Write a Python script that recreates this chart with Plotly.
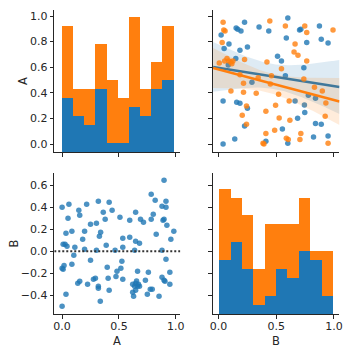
import numpy as np
import plotly.graph_objects as go

# ---------------- data ----------------
# hue 1 (blue) and hue 2 (orange): column B (x of upper-right) and A (y of upper-right)
B1 = [0.022, 0.152, 0.166, 0.194, 0.225, 0.351, 0.435, 0.600, 0.587, 0.702, 0.713, 0.874, 0.890, 0.949, 0.764,
      0.090, 0.048, 0.250, 0.185, 0.149, 0.084, 0.511, 0.545, 0.739, 0.579, 0.289, 0.778, 0.840, 0.744, 0.663,
      0.747, 0.039, 0.157, 0.185, 0.250, 0.685, 0.840, 0.890, 0.225, 0.553, 0.949, 0.823, 0.140, 0.410, 0.600, 0.039]
A1 = [0.852, 0.906, 0.896, 0.883, 0.951, 0.914, 0.883, 0.984, 0.828, 0.891, 0.896, 0.922, 0.818, 0.790, 0.794,
      0.781, 0.747, 0.758, 0.732, 0.669, 0.617, 0.685, 0.648, 0.595, 0.534, 0.482, 0.380, 0.357, 0.305, 0.336,
      0.247, 0.336, 0.326, 0.318, 0.279, 0.201, 0.161, 0.154, 0.141, 0.117, 0.063, 0.055, 0.039, 0.021, 0.005, 0.0]
B2 = [0.039, 0.045, 0.056, 0.444, 0.579, 0.747, 0.764, 0.992, 0.031, 0.663, 0.654, 0.688, 0.225, 0.006, 0.073,
      0.053, 0.090, 0.107, 0.124, 0.115, 0.419, 0.545, 0.764, 0.185, 0.458, 0.343, 0.739, 0.216, 0.449, 0.831,
      0.107, 0.216, 0.326, 0.899, 0.520, 0.612, 0.930, 0.494, 0.242, 0.410, 0.205, 0.525, 0.618, 0.924, 0.242,
      0.486, 0.410, 0.713, 0.587, 0.604, 0.705, 0.385, 0.393, 0.949]
A2 = [0.951, 0.891, 0.883, 0.961, 0.922, 0.922, 0.872, 0.891, 0.794, 0.781, 0.719, 0.693, 0.661, 0.633, 0.669,
      0.648, 0.648, 0.641, 0.648, 0.628, 0.641, 0.588, 0.648, 0.542, 0.534, 0.518, 0.508, 0.474, 0.469, 0.443,
      0.414, 0.404, 0.396, 0.414, 0.388, 0.336, 0.320, 0.302, 0.297, 0.255, 0.224, 0.203, 0.185, 0.216, 0.154,
      0.107, 0.083, 0.083, 0.044, 0.036, 0.036, 0.005, 0.0, 0.005]

# histogram counts (10 bins) per hue
A_counts_1 = [6, 4, 3, 7, 1, 1, 5, 4, 7, 8]
A_counts_2 = [8, 3, 4, 5, 7, 5, 10, 3, 3, 6]
B_counts_1 = [6, 8, 5, 1, 2, 5, 4, 7, 6, 2]
B_counts_2 = [8, 5, 6, 4, 8, 5, 6, 6, 1, 5]

# lower-left residual plot: x = A, y = B
resid_A = [0.897, 0.784, 0.819, 0.914, 0.879, 0.914, 0.0, 0.060, 0.216, 0.319,
           0.414, 0.147, 0.155, 0.362, 0.440, 0.647, 0.802, 0.052, 0.509, 0.379,
           0.595, 0.690, 0.716, 0.784, 0.888, 0.897, 0.922, 0.250, 0.302, 0.983,
           0.034, 0.086, 0.198, 0.339, 0.828, 0.328, 0.181, 0.534, 0.595, 0.957,
           0.647, 0.681, 0.009, 0.026, 0.043, 0.112, 0.198, 0.388, 0.534, 0.638,
           0.466, 0.302, 0.879, 0.103, 0.250, 0.086, 0.017, 0.0, 0.009, 0.914,
           0.526, 0.397, 0.517, 0.483, 0.664, 0.759, 0.948, 0.474, 0.405, 0.534,
           0.879, 0.897, 0.905, 0.733, 0.276, 0.293, 0.138, 0.155, 0.224, 0.319,
           0.319, 0.414, 0.621, 0.647, 0.672, 0.638, 0.664, 0.681, 0.647, 0.621,
           0.629, 0.776, 0.793, 0.750, 0.853, 0.948, 0.034, 0.336, 0.0, 0.655]
resid_B = [0.645, 0.518, 0.463, 0.454, 0.409, 0.400, 0.400, 0.427, 0.427, 0.454,
           0.445, 0.372, 0.327, 0.354, 0.372, 0.354, 0.336, 0.300, 0.309, 0.291,
           0.282, 0.291, 0.263, 0.291, 0.282, 0.291, 0.236, 0.245, 0.254, 0.182,
           0.163, 0.182, 0.182, 0.172, 0.154, 0.136, 0.109, 0.118, 0.127, 0.109,
           0.091, 0.072, 0.063, 0.063, 0.045, 0.036, 0.018, 0.054, 0.036, 0.009,
           0.009, 0.009, 0.009, -0.037, -0.082, -0.118, -0.128, -0.155, -0.164, -0.073,
           -0.091, -0.146, -0.155, -0.182, -0.182, -0.191, -0.191, -0.228, -0.246, -0.255,
           -0.237, -0.264, -0.273, -0.264, -0.255, -0.246, -0.291, -0.273, -0.300, -0.318,
           -0.337, -0.355, -0.300, -0.291, -0.300, -0.318, -0.318, -0.318, -0.355, -0.373,
           -0.409, -0.346, -0.346, -0.391, -0.409, -0.300, -0.391, -0.455, -0.500, -0.270]

x_ticks = [0.0, 0.5, 1.0]
x_tick_text = ["0.0", "0.5", "1.0"]
yA_ticks = [0.0, 0.2, 0.4, 0.6, 0.8, 1.0]
yA_tick_text = ["0.0", "0.2", "0.4", "0.6", "0.8", "1.0"]
yB_ticks = [-0.4, -0.2, 0.0, 0.2, 0.4, 0.6]
yB_tick_text = ["\u22120.4", "\u22120.2", "0.0", "0.2", "0.4", "0.6"]

# ---------------- style / layout ----------------
BLUE = "#1f77b4"
ORANGE = "#ff7f0e"
INK = "#262626"
FONT = "DejaVu Sans"
W, H = 353, 352

xA_range = [-0.069, 1.041]
xB_range = [-0.048, 1.048]
yA_range = [-0.0625, 1.047]
yB_range = [-0.570, 0.709]
hist_range = [0, 15.75]

col1 = [52.3 / W, 181.0 / W]
col2 = [214.3 / W, 343.3 / W]
row1 = [1 - 152.0 / H, 1 - 10.0 / H]
row2 = [1 - 314.0 / H, 1 - 173.3 / H]

fig = go.Figure()

# register every visible subplot so that all axes get drawn
for xa, ya in (("x", "y"), ("x4", "y4")):
    fig.add_trace(go.Scatter(x=[], y=[], xaxis=xa, yaxis=ya, mode="markers", showlegend=False, hoverinfo="skip"))

# ---- diagonal histograms (stacked) ----
def hist_bars(vals_all, counts1, counts2, xa, ya):
    edges = np.linspace(min(vals_all), max(vals_all), len(counts1) + 1)
    centers = (edges[:-1] + edges[1:]) / 2
    width = edges[1] - edges[0]
    for counts, col in ((counts1, BLUE), (counts2, ORANGE)):
        fig.add_trace(go.Bar(x=centers, y=counts, width=width, marker=dict(color=col, line=dict(width=0)),
                             xaxis=xa, yaxis=ya, showlegend=False, hoverinfo="skip"))

hist_bars(A1 + A2, A_counts_1, A_counts_2, "x", "y5")
hist_bars(B1 + B2, B_counts_1, B_counts_2, "x4", "y6")

# ---- upper right: scatter + regression with CI ----
T_CRIT = {44: 2.015, 52: 2.007}
xg = np.linspace(xB_range[0], xB_range[1], 100)
for xs, ys, col, rgb in ((B1, A1, BLUE, "31,119,180"), (B2, A2, ORANGE, "255,127,14")):
    x = np.array(xs)
    y = np.array(ys)
    n = len(x)
    slope, icpt = np.polyfit(x, y, 1)
    yhat = icpt + slope * xg
    res = y - (icpt + slope * x)
    s = np.sqrt(np.sum(res ** 2) / (n - 2))
    sxx = np.sum((x - x.mean()) ** 2)
    se = s * np.sqrt(1.0 / n + (xg - x.mean()) ** 2 / sxx)
    t = T_CRIT[n - 2]
    fig.add_trace(go.Scatter(x=xs, y=ys, mode="markers", xaxis="x2", yaxis="y2",
                             marker=dict(color=col, size=5.5, opacity=0.8, line=dict(width=0)),
                             showlegend=False, hoverinfo="skip"))
    fig.add_trace(go.Scatter(x=xg, y=yhat + t * se, mode="lines", line=dict(width=0), xaxis="x2", yaxis="y2",
                             showlegend=False, hoverinfo="skip"))
    fig.add_trace(go.Scatter(x=xg, y=yhat - t * se, mode="lines", line=dict(width=0), fill="tonexty",
                             fillcolor="rgba(%s,0.15)" % rgb, xaxis="x2", yaxis="y2",
                             showlegend=False, hoverinfo="skip"))
    fig.add_trace(go.Scatter(x=xg, y=yhat, mode="lines", line=dict(color=col, width=2.5), xaxis="x2", yaxis="y2",
                             showlegend=False, hoverinfo="skip"))

# ---- lower left: residual plot ----
fig.add_trace(go.Scatter(x=resid_A, y=resid_B, mode="markers", xaxis="x3", yaxis="y3",
                         marker=dict(color=BLUE, size=5.5, opacity=0.8, line=dict(width=0)),
                         showlegend=False, hoverinfo="skip"))
fig.add_trace(go.Scatter(x=xA_range, y=[0, 0], mode="lines", xaxis="x3", yaxis="y3",
                         line=dict(color="#333333", width=2, dash="2px,2px"),
                         showlegend=False, hoverinfo="skip"))

common = dict(showline=True, linecolor=INK, linewidth=1.25, ticks="outside", ticklen=3.5, tickwidth=1.25,
              tickcolor=INK, showgrid=False, zeroline=False,
              tickfont=dict(family=FONT, size=11, color=INK))
xcommon = dict(common, ticklabelstandoff=-2)

fig.update_layout(
    width=W, height=H, margin=dict(l=0, r=0, t=0, b=0),
    paper_bgcolor="white", plot_bgcolor="rgba(0,0,0,0)",
    barmode="stack", bargap=0, showlegend=False,
    xaxis=dict(domain=col1, anchor="y", range=xA_range, tickvals=x_ticks, ticktext=x_tick_text,
               showticklabels=False, **common),
    yaxis=dict(domain=row1, anchor="x", range=yA_range, tickvals=yA_ticks, ticktext=yA_tick_text, **common),
    xaxis2=dict(domain=col2, anchor="y2", range=xB_range, tickvals=x_ticks, ticktext=x_tick_text,
                showticklabels=False, **common),
    yaxis2=dict(domain=row1, anchor="x2", range=yA_range, tickvals=yA_ticks, ticktext=yA_tick_text,
                showticklabels=False, **common),
    xaxis3=dict(domain=col1, anchor="y3", range=xA_range, tickvals=x_ticks, ticktext=x_tick_text, **xcommon),
    yaxis3=dict(domain=row2, anchor="x3", range=yB_range, tickvals=yB_ticks, ticktext=yB_tick_text, **common),
    xaxis4=dict(domain=col2, anchor="y4", range=xB_range, tickvals=x_ticks, ticktext=x_tick_text, **xcommon),
    yaxis4=dict(domain=row2, anchor="x4", range=yB_range, tickvals=yB_ticks, ticktext=yB_tick_text,
                showticklabels=False, **common),
    yaxis5=dict(domain=row1, anchor="x", range=hist_range, visible=False, showgrid=False, zeroline=False),
    yaxis6=dict(domain=row2, anchor="x4", range=hist_range, visible=False, showgrid=False, zeroline=False),
)

lab_font = dict(family=FONT, size=11.5, color=INK)
for txt, x, y, ang in (("A", 20.5, 81.0, -90), ("B", 11.2, 243.5, -90), ("A", 116.5, 340.5, 0), ("B", 278.8, 340.5, 0)):
    fig.add_annotation(text=txt, x=x / W, y=1 - y / H, xref="paper", yref="paper", showarrow=False,
                       textangle=ang, font=lab_font, xanchor="center", yanchor="middle")

fig.write_html("out.html")
